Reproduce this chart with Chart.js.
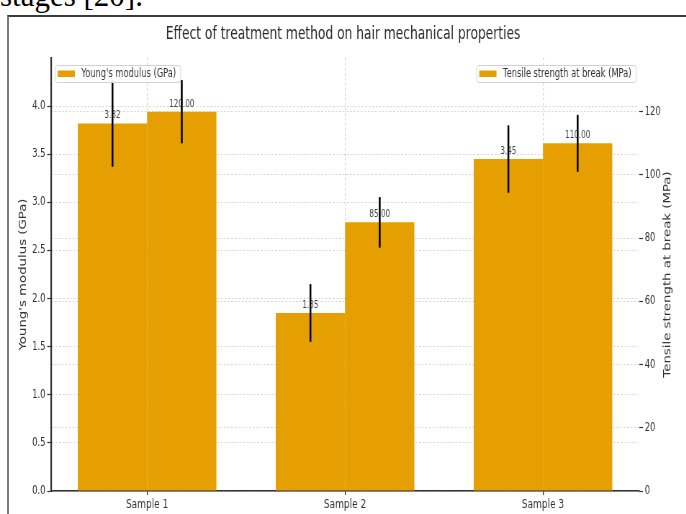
<!DOCTYPE html>
<html>
<head>
<meta charset="utf-8">
<title>Effect of treatment method on hair mechanical properties</title>
<script src="https://cdn.jsdelivr.net/npm/chart.js@4.4.1/dist/chart.umd.min.js"></script>
<style>
  html, body { margin: 0; padding: 0; background: #fff; width: 686px; height: 514px; overflow: hidden; position: relative; }
  #caption { position: absolute; left: 0; top: -20px; font: 31px 'Liberation Serif', 'DejaVu Serif', serif; line-height: 1; color: #000; white-space: nowrap; }
  #frame { position: absolute; left: 7px; top: 15px; right: 0; bottom: 0; border-left: 2px solid #7a7a7a; border-top: 2px solid #3a3a3a; }
  /* the figure is laid out wide, then narrowed to the page width */
  #chart { position: absolute; left: 0; top: 0; transform: scaleX(0.72); transform-origin: 0 0; }
</style>
</head>
<body>
<div id="caption">stages [20].</div>
<div id="frame"></div>
<canvas id="chart" width="953" height="514"></canvas>
<script>
// ---- data ----
const categories = ['Sample 1', 'Sample 2', 'Sample 3'];
const youngsModulus = [3.82, 1.85, 3.45];          // GPa
const youngsModulusErr = [0.45, 0.30, 0.35];
const tensileStrength = [120, 85, 110];            // MPa
const tensileStrengthErr = [10, 8, 9];
const youngsTicks = [0, 0.5, 1.0, 1.5, 2.0, 2.5, 3.0, 3.5, 4.0];
const tensileTicks = [0, 20, 40, 60, 80, 100, 120];

const chartTitle = 'Effect of treatment method on hair mechanical properties';
const youngsLabel = "Young's modulus (GPa)";
const tensileLabel = 'Tensile strength at break (MPa)';

// ---- style ----
const FONT = "'DejaVu Sans', 'Liberation Sans', sans-serif";
const BAR_COLOR = '#E69F00';
const GRID_COLOR = 'rgba(0,0,0,0.17)';
const AXIS_COLOR = '#333333';
const TEXT_COLOR = '#333333';

function drawLegend(ctx, ds, anchorX, side) {
  ctx.font = `11.5px ${FONT}`;
  const tw = ctx.measureText(ds.label).width;
  const padL = 4, sw = 24, gap = 9, padR = 6, y = 65, h = 17;
  const w = padL + sw + gap + tw + padR;
  const x = side === 'left' ? anchorX : anchorX - w;
  ctx.fillStyle = 'rgba(255,255,255,0.88)';
  ctx.strokeStyle = '#d2d2d2';
  ctx.lineWidth = 1;
  ctx.beginPath();
  if (ctx.roundRect) ctx.roundRect(x + 0.5, y + 0.5, w, h, 3); else ctx.rect(x + 0.5, y + 0.5, w, h);
  ctx.fill();
  ctx.stroke();
  ctx.fillStyle = ds.backgroundColor;
  ctx.fillRect(x + padL, y + 5.5, sw, 6.5);
  ctx.fillStyle = TEXT_COLOR;
  ctx.textAlign = 'left';
  ctx.textBaseline = 'middle';
  ctx.fillText(ds.label, x + padL + sw + gap, y + h / 2 + 0.5);
}

const decorations = {
  id: 'decorations',
  afterLayout(chart) {
    // category range with a small margin either side of the outer bars
    const x = chart.scales.x;
    x._startValue = -0.485;
    x._valueRange = categories.length - 1 + 0.97;
  },
  afterDatasetsDraw(chart) {
    const ctx = chart.ctx;
    const series = [
      { meta: chart.getDatasetMeta(0), scale: chart.scales.y, vals: youngsModulus, errs: youngsModulusErr },
      { meta: chart.getDatasetMeta(1), scale: chart.scales.y1, vals: tensileStrength, errs: tensileStrengthErr }
    ];
    ctx.save();
    // value labels above each bar
    ctx.font = `10px ${FONT}`;
    ctx.fillStyle = '#444';
    ctx.textAlign = 'center';
    ctx.textBaseline = 'alphabetic';
    series.forEach(s => s.meta.data.forEach((el, i) => {
      ctx.fillText(s.vals[i].toFixed(2), el.x, el.y - 5);
    }));
    // error bars (no caps)
    ctx.strokeStyle = '#000';
    ctx.lineWidth = 2.6;
    series.forEach(s => s.meta.data.forEach((el, i) => {
      const top = s.scale.getPixelForValue(s.vals[i] + s.errs[i]);
      const bot = s.scale.getPixelForValue(s.vals[i] - s.errs[i]);
      ctx.beginPath();
      ctx.moveTo(el.x, top);
      ctx.lineTo(el.x, bot);
      ctx.stroke();
    }));
    ctx.restore();
  },
  afterDraw(chart) {
    const ctx = chart.ctx;
    const area = chart.chartArea;
    const midY = (area.top + area.bottom) / 2;
    ctx.save();
    ctx.fillStyle = '#2a2a2a';
    ctx.textAlign = 'center';
    ctx.textBaseline = 'middle';
    ctx.font = `17px ${FONT}`;
    ctx.fillText(chartTitle, chart.width / 2, 35);

    ctx.fillStyle = TEXT_COLOR;
    ctx.font = `13.3px ${FONT}`;
    ctx.save();
    ctx.translate(33, midY);
    ctx.rotate(-Math.PI / 2);
    ctx.fillText(youngsLabel, 0, 0);
    ctx.restore();
    ctx.save();
    ctx.translate(928, midY);
    ctx.rotate(-Math.PI / 2);
    ctx.fillText(tensileLabel, 0, 0);
    ctx.restore();

    drawLegend(ctx, chart.data.datasets[0], 76, 'left');
    drawLegend(ctx, chart.data.datasets[1], 883, 'right');
    ctx.restore();
  }
};

new Chart(document.getElementById('chart'), {
  type: 'bar',
  data: {
    labels: categories,
    datasets: [
      { label: youngsLabel, data: youngsModulus, yAxisID: 'y', backgroundColor: BAR_COLOR, borderWidth: 0,
        categoryPercentage: 0.7, barPercentage: 1.0 },
      { label: tensileLabel, data: tensileStrength, yAxisID: 'y1', backgroundColor: BAR_COLOR, borderWidth: 0,
        categoryPercentage: 0.7, barPercentage: 1.0 }
    ]
  },
  options: {
    responsive: false,
    animation: false,
    devicePixelRatio: 1,
    layout: { padding: { top: 58, left: 0, right: 0, bottom: 0 } },
    plugins: {
      legend: { display: false },
      title: { display: false },
      tooltip: { enabled: false }
    },
    scales: {
      x: {
        type: 'category',
        offset: true,
        grid: { offset: false, color: GRID_COLOR, lineWidth: 1.3, tickLength: 4, tickColor: AXIS_COLOR, tickWidth: 1.3, tickBorderDash: [] },
        border: { display: true, color: AXIS_COLOR, width: 1.6, dash: [2.5, 2.5] },
        ticks: { color: TEXT_COLOR, font: { family: FONT, size: 12.5 }, padding: 2, maxRotation: 0, autoSkip: false },
        afterFit: s => { s.height = 23; }
      },
      y: {
        position: 'left',
        min: 0,
        max: 4.5,
        afterBuildTicks: s => { s.ticks = youngsTicks.map(v => ({ value: v })); },
        ticks: { color: TEXT_COLOR, font: { family: FONT, size: 11.5 }, padding: 2.5, callback: v => Number(v).toFixed(1) },
        grid: { color: GRID_COLOR, lineWidth: 1, tickLength: 5.5, tickColor: AXIS_COLOR, tickWidth: 1.2, tickBorderDash: [] },
        border: { display: true, color: AXIS_COLOR, width: 2.2, dash: [2.5, 2.5] },
        afterFit: s => { s.width = 71; }
      },
      y1: {
        position: 'right',
        min: 0,
        max: 137,
        afterBuildTicks: s => { s.ticks = tensileTicks.map(v => ({ value: v })); },
        ticks: { color: TEXT_COLOR, font: { family: FONT, size: 11.5 }, padding: 2.5, callback: v => String(v) },
        grid: { color: GRID_COLOR, lineWidth: 1, tickLength: 5.5, tickColor: AXIS_COLOR, tickWidth: 1.2, tickBorderDash: [] },
        border: { display: false, dash: [2.5, 2.5] },
        afterFit: s => { s.width = 65.5; }
      }
    }
  },
  plugins: [decorations]
});
</script>
</body>
</html>
